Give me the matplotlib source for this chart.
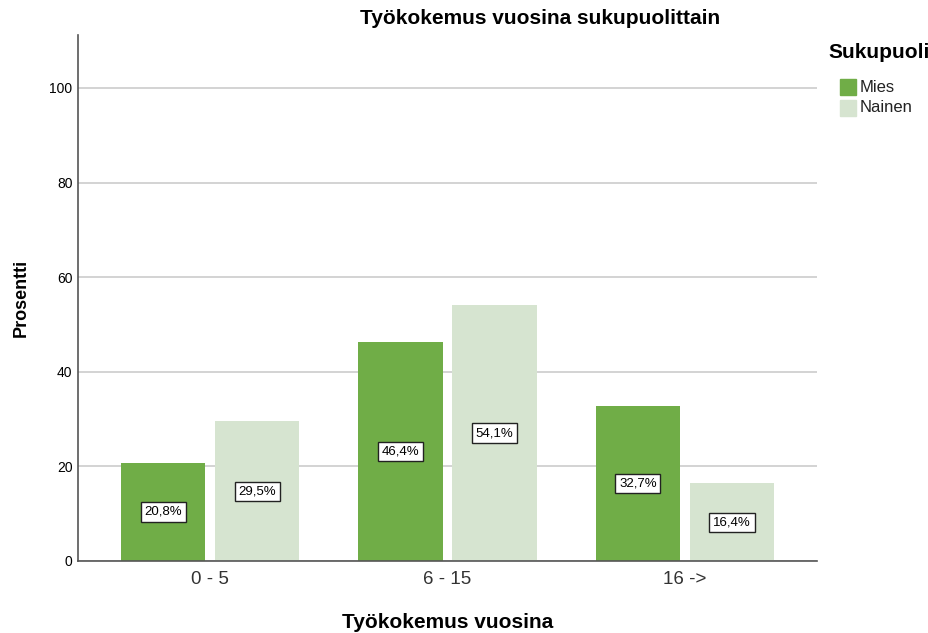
import matplotlib.pyplot as plt
import numpy as np
from matplotlib.patches import Rectangle

plt.rcParams['font.family'] = ['Liberation Sans', 'DejaVu Sans']

# Data
categories = ['0 - 5', '6 - 15', '16 ->']
mies = [20.8, 46.4, 32.7]
nainen = [29.5, 54.1, 16.4]
y_ticks = [0, 20, 40, 60, 80, 100]
series_names = ['Mies', 'Nainen']

green = '#70AD47'
light = '#D6E4D0'

W, H = 929, 633
fig = plt.figure(figsize=(W / 100, H / 100), dpi=100)
ax = fig.add_axes([78 / W, 1 - 561 / H, (817 - 78) / W, (561 - 35) / H])

x = np.arange(len(categories))
w = 0.354
off = 0.198

b1 = ax.bar(x - off, mies, w, color=green, zorder=2)
b2 = ax.bar(x + off, nainen, w, color=light, zorder=2)

# Value labels in the middle of each bar
for bars, vals in [(b1, mies), (b2, nainen)]:
    for rect, v in zip(bars, vals):
        ax.text(rect.get_x() + rect.get_width() / 2, v / 2,
                f'{v:.1f}%'.replace('.', ','),
                ha='center', va='center', fontsize=9.5, zorder=3,
                bbox=dict(boxstyle='square,pad=0.28', fc='white', ec='#222222', lw=1))

ax.set_xlim(-0.556, 2.556)
ax.set_ylim(0, 111.2)
ax.set_yticks(y_ticks)
ax.set_xticks(x)
ax.set_xticklabels(categories, fontsize=13.5, color='#333333')
ax.tick_params(axis='y', labelsize=10, length=0, pad=4)
ax.tick_params(axis='x', length=0, pad=7)

ax.yaxis.grid(True, color='#CCCCCC', lw=1.2, zorder=0)
ax.set_axisbelow(True)
for s in ['top', 'right']:
    ax.spines[s].set_visible(False)
for s in ['left', 'bottom']:
    ax.spines[s].set_color('#555555')
    ax.spines[s].set_linewidth(1.2)

ax.set_ylabel('Prosentti', fontsize=13, fontweight='bold', labelpad=14)
fig.text(448 / W, 1 - 622 / H, 'Työkokemus vuosina', ha='center', va='center',
         fontsize=15, fontweight='bold')
fig.text(540 / W, 1 - 18 / H, 'Työkokemus vuosina sukupuolittain', ha='center',
         va='center', fontsize=15, fontweight='bold')

# Legend drawn by hand to match the layout
fig.text(828 / W, 1 - 53 / H, 'Sukupuoli', ha='left', va='center',
         fontsize=15, fontweight='bold')
for i, (name, col) in enumerate(zip(series_names, [green, light])):
    yc = 87 + i * 21
    fig.add_artist(Rectangle((840 / W, 1 - (yc + 8) / H), 16 / W, 16 / H,
                             transform=fig.transFigure, color=col))
    fig.text(860 / W, 1 - yc / H, name, ha='left', va='center', fontsize=12,
             color='#222222')

fig.savefig('out.png', dpi=100)
